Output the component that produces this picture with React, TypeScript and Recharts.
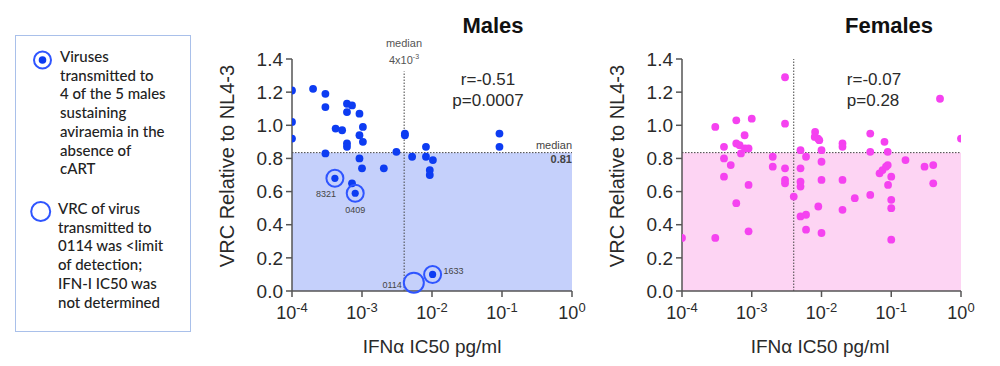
import React from 'react';
import {
  ScatterChart,
  Scatter,
  XAxis,
  YAxis,
  ReferenceArea,
  ReferenceLine,
} from 'recharts';

// IFNa IC50 (pg/ml) vs VRC relative to NL4-3
const xTicks = [1e-4, 1e-3, 1e-2, 1e-1, 1];
const yTicks = [0, 0.2, 0.4, 0.6, 0.8, 1.0, 1.2, 1.4];

const maleIC50 = [
  1e-4, 1e-4, 1e-4, 2e-4, 3e-4, 3e-4, 3e-4, 4.2e-4, 5.2e-4, 6.1e-4, 7.2e-4,
  6.1e-4, 9.2e-4, 6.1e-4, 6.1e-4, 1.03e-3, 9.2e-4, 1.03e-3, 9.2e-4, 1e-3,
  2.05e-3, 7.2e-4, 3.1e-3, 4.1e-3, 4.1e-3, 5.2e-3, 8.2e-3, 8.2e-3, 1.03e-2,
  9.3e-3, 9.3e-3, 9.2e-2, 9.2e-2,
];
const maleVRC = [
  1.21, 1.02, 0.92, 1.22, 1.19, 1.11, 0.83, 0.98, 0.97, 1.13, 1.12, 1.08,
  1.07, 0.89, 0.87, 0.99, 0.94, 0.9, 0.8, 0.74, 0.74, 0.65, 0.84, 0.95, 0.94,
  0.81, 0.87, 0.81, 0.79, 0.73, 0.7, 0.95, 0.87,
];

// aviraemic controllers (circled, filled)
const aviraemicIds = ['8321', '0409', '1633'];
const aviraemicIC50 = [4.1e-4, 8e-4, 1.02e-2];
const aviraemicVRC = [0.68, 0.59, 0.1];

// below limit of detection (open circle)
const lodIds = ['0114'];
const lodIC50 = [5.5e-3];
const lodVRC = [0.05];

const femaleIC50 = [
  1e-4, 3e-4, 3e-4, 4e-4, 4e-4, 4e-4, 5e-4, 6e-4, 6e-4, 6.7e-4, 7e-4, 7.9e-4,
  8e-4, 9e-4, 9e-4, 9e-4, 6e-4, 1e-3, 2e-3, 2e-3, 3e-3, 3e-3, 3e-3, 3e-3,
  3e-3, 4e-3, 5e-3, 5e-3, 5e-3, 5e-3, 5e-3, 6e-3, 6e-3, 6e-3, 8.1e-3, 8e-3,
  8.9e-3, 9.3e-3, 9e-3, 1e-2, 1e-2, 1e-2, 1e-2, 2e-2, 2e-2, 2e-2, 2e-2, 3e-2,
  5e-2, 5e-2, 5e-2, 6.8e-2, 7.5e-2, 8e-2, 8.4e-2, 8.9e-2, 8.9e-2, 9e-2, 0.1,
  0.1, 0.1, 0.1, 0.16, 0.3, 0.4, 0.4, 0.5, 1,
];
const femaleVRC = [
  0.32, 0.99, 0.32, 0.87, 0.8, 0.69, 0.76, 1.03, 0.89, 0.88, 0.83, 0.94, 0.86,
  0.86, 0.64, 0.36, 0.53, 1.04, 0.81, 0.75, 1.29, 1.01, 0.74, 0.67, 0.65, 0.57,
  0.85, 0.74, 0.66, 0.63, 0.45, 0.81, 0.46, 0.37, 0.96, 0.93, 0.92, 0.91, 0.51,
  0.85, 0.78, 0.67, 0.35, 0.89, 0.87, 0.67, 0.49, 0.56, 0.95, 0.84, 0.58, 0.71,
  0.73, 0.9, 0.75, 0.84, 0.76, 0.64, 0.69, 0.55, 0.5, 0.31, 0.79, 0.75, 0.76,
  0.65, 1.16, 0.92,
];

const medianIC50 = 4e-3;
const medianVRC = 0.835;

const toPoints = (xs: number[], ys: number[], ids?: string[]) =>
  xs.map((x, i) => ({ x, y: ys[i], id: ids ? ids[i] : '' }));

const FONT = '"Liberation Sans", Arial, sans-serif';
const AXIS = '#555';
const TEXT = '#2a2a2a';
const BLUE = '#0d3cf2';
const RING = '#2f55ff';
const PINK = '#f542f0';

const LogTick = (props: any) => {
  const { x, y, payload } = props;
  const e = Math.round(Math.log10(payload.value));
  return (
    <text x={x} y={y + 20} textAnchor="middle" fill={TEXT} fontFamily={FONT} fontSize={18}>
      <tspan>10</tspan>
      <tspan fontSize={13} dy={-7}>{String(e)}</tspan>
    </text>
  );
};

const dot = (color: string) => (p: any) =>
  <circle cx={p.cx} cy={p.cy} r={3.9} fill={color} />;

// label offsets for circled viruses
const labelPos: Record<string, [number, number, string]> = {
  '8321': [-9, 19, 'middle'],
  '0409': [0, 20, 'middle'],
  '1633': [11, 0, 'start'],
  '0114': [-12, 5, 'end'],
};

const ringShape = (filled: boolean) => (p: any) => {
  const id = p.payload?.id ?? p.id;
  const [dx, dy, anchor] = labelPos[id] || [0, 0, 'middle'];
  return (
    <g>
      <circle cx={p.cx} cy={p.cy} r={filled ? 8.5 : 10} fill="none" stroke={RING} strokeWidth={2} />
      {filled && <circle cx={p.cx} cy={p.cy} r={3.6} fill={BLUE} />}
      <text x={p.cx + dx} y={p.cy + dy} textAnchor={anchor as any} fontFamily={FONT} fontSize={9} fill="#444">
        {id}
      </text>
    </g>
  );
};

const abs = (left: number, top: number, extra: React.CSSProperties = {}): React.CSSProperties => ({
  position: 'absolute',
  left,
  top,
  fontFamily: FONT,
  color: TEXT,
  whiteSpace: 'nowrap',
  ...extra,
});

const Panel: React.FC<{
  children: React.ReactNode;
  shade: string;
  vTop: number;
  right: number;
  width: number;
  left: number;
}> = ({ children, shade, vTop, right, width, left }) => (
  <div style={{ position: 'absolute', left, top: 0 }}>
    <ScatterChart width={width} height={366} margin={{ top: 59, right, bottom: 34, left: 32 }}>
      <ReferenceArea x1={1e-4} x2={1} y1={0} y2={medianVRC} fill={shade} fillOpacity={1} stroke="none" />
      <XAxis
        type="number"
        dataKey="x"
        scale="log"
        domain={[1e-4, 1]}
        ticks={xTicks}
        allowDataOverflow
        height={41}
        tickSize={6}
        axisLine={{ stroke: AXIS, strokeWidth: 1.5 }}
        tickLine={{ stroke: AXIS, strokeWidth: 1.5 }}
        tick={<LogTick />}
      />
      <YAxis
        type="number"
        dataKey="y"
        domain={[0, 1.4]}
        ticks={yTicks}
        width={60}
        tickSize={6}
        tickMargin={3}
        axisLine={{ stroke: AXIS, strokeWidth: 1.5 }}
        tickLine={{ stroke: AXIS, strokeWidth: 1.5 }}
        tick={{ fill: TEXT, fontSize: 19, fontFamily: FONT }}
        tickFormatter={(v: number) => v.toFixed(1)}
      />
      <ReferenceLine
        segment={[{ x: medianIC50, y: 0 }, { x: medianIC50, y: vTop }]}
        stroke="#444"
        strokeDasharray="1.5 1.5"
      />
      <ReferenceLine y={medianVRC} stroke="#444" strokeDasharray="1.5 1.5" />
      {children}
    </ScatterChart>
  </div>
);

const yLabel = (cx: number) => (
  <div
    style={abs(cx, 166, {
      fontSize: 20,
      transform: 'translate(-50%, -50%) rotate(-90deg)',
    })}
  >
    VRC Relative to NL4-3
  </div>
);

const xLabel = (cx: number) => (
  <div style={abs(cx, 336, { fontSize: 19, transform: 'translateX(-50%)' })}>IFNα IC50 pg/ml</div>
);

const legendText: React.CSSProperties = {
  fontFamily: 'Lato, sans-serif',
  fontSize: 15,
  fontWeight: 500,
  color: '#222',
  lineHeight: '18.7px',
};

export default function App() {
  return (
    <div style={{ position: 'absolute', left: 0, top: 0, width: 1000, height: 366, background: '#fff', overflow: 'hidden' }}>
      {/* legend box */}
      <div
        style={{
          position: 'absolute',
          left: 15,
          top: 35,
          width: 174,
          height: 295,
          border: '1.5px solid #a9c0ea',
        }}
      />
      <svg style={{ position: 'absolute', left: 0, top: 0 }} width={200} height={366}>
        <circle cx={42.5} cy={60} r={8.5} fill="none" stroke={RING} strokeWidth={2} />
        <circle cx={42.5} cy={60} r={3.8} fill={BLUE} />
        <circle cx={40.7} cy={211.5} r={9.5} fill="none" stroke={RING} strokeWidth={2} />
      </svg>
      <div style={abs(60, 47, legendText)}>
        Viruses<br />transmitted to<br />4 of the 5 males<br />sustaining<br />aviraemia in the<br />absence of<br />cART
      </div>
      <div style={abs(58, 199, legendText)}>
        VRC of virus<br />transmitted to<br />0114 was &lt;limit<br />of detection;<br />IFN-I IC50 was<br />not determined
      </div>

      {/* Males */}
      <Panel left={200} width={390} right={18} shade="#c5d0fb" vTop={1.325}>
        <Scatter data={toPoints(maleIC50, maleVRC)} isAnimationActive={false} shape={dot(BLUE)} />
        <Scatter data={toPoints(aviraemicIC50, aviraemicVRC, aviraemicIds)} isAnimationActive={false} shape={ringShape(true)} />
        <Scatter data={toPoints(lodIC50, lodVRC, lodIds)} isAnimationActive={false} shape={ringShape(false)} />
      </Panel>
      <div style={abs(493, 13, { fontSize: 22, fontWeight: 'bold', color: '#111', transform: 'translateX(-50%)' })}>Males</div>
      <div style={abs(404, 37, { fontSize: 11, color: '#555', textAlign: 'center', lineHeight: '13px', transform: 'translateX(-50%)' })}>
        median<br />4x10<sup style={{ fontSize: 7 }}>-3</sup>
      </div>
      <div style={abs(488, 69, { fontSize: 17, textAlign: 'center', lineHeight: '21px', transform: 'translateX(-50%)' })}>
        r=-0.51<br />p=0.0007
      </div>
      <div style={abs(572, 138, { fontSize: 11, color: '#444', textAlign: 'right', lineHeight: '14px', transform: 'translateX(-100%)' })}>
        median<br /><b>0.81</b>
      </div>
      {yLabel(227)}
      {xLabel(432)}

      {/* Females */}
      <Panel left={590} width={400} right={29} shade="#fdd4f3" vTop={1.4}>
        <Scatter data={toPoints(femaleIC50, femaleVRC)} isAnimationActive={false} shape={dot(PINK)} />
      </Panel>
      <div style={abs(889, 13, { fontSize: 22, fontWeight: 'bold', color: '#111', transform: 'translateX(-50%)' })}>Females</div>
      <div style={abs(874, 69, { fontSize: 17, textAlign: 'left', lineHeight: '21px', transform: 'translateX(-50%)' })}>
        r=-0.07<br />p=0.28
      </div>
      {yLabel(617)}
      {xLabel(820)}
    </div>
  );
}
